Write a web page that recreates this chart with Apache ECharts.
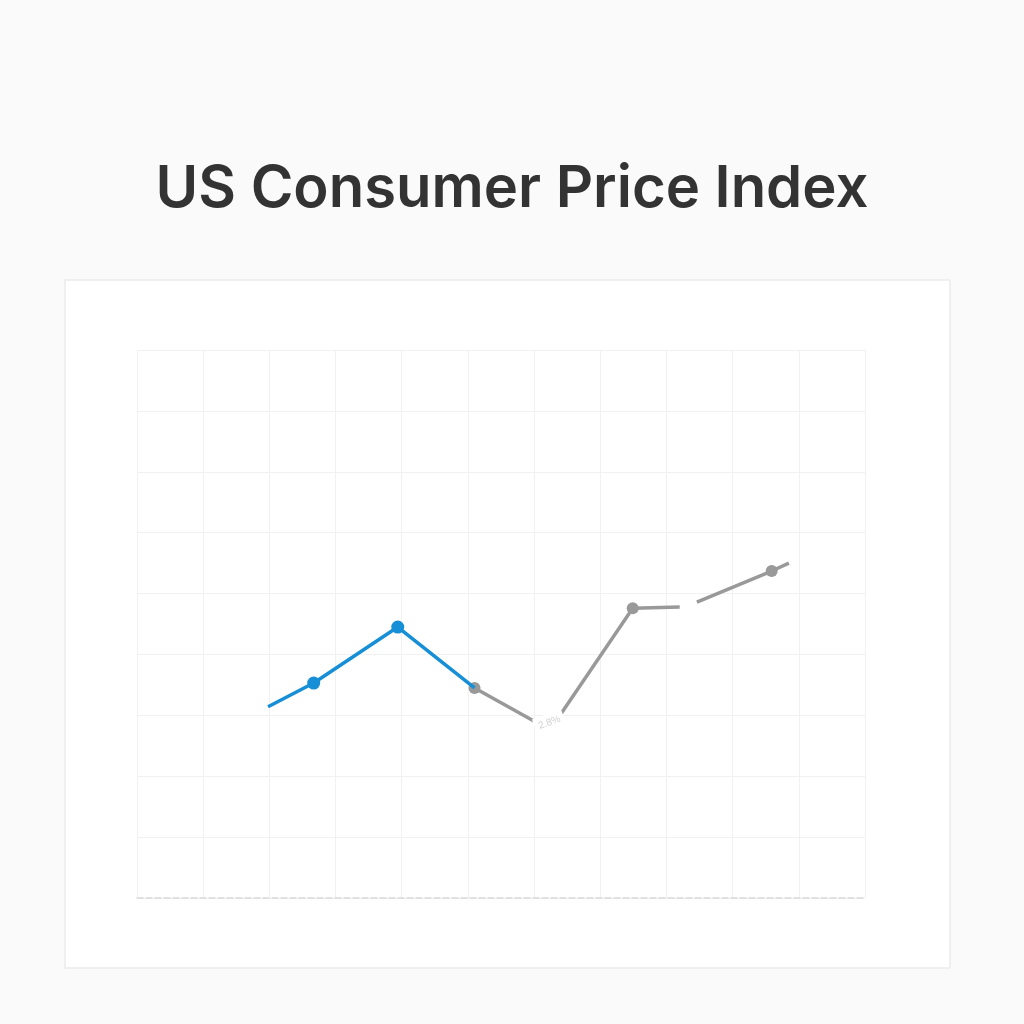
<!DOCTYPE html>
<html>
<head>
<meta charset="utf-8">
<script src="https://cdn.jsdelivr.net/npm/echarts@6/dist/echarts.min.js"></script>
<style>
  html, body { margin: 0; padding: 0; background: #fafafa; }
  #chart { width: 1024px; height: 1024px; }
</style>
</head>
<body>
<div id="chart"></div>
<script>
// 数据
const blueX = [1.98, 2.67, 3.94, 5.1];
const blueY = [3.14, 3.53, 4.45, 3.45];
const grayX = [5.1, 6.24, 7.49, 8.2, 8.33, 8.46, 9.59, 9.85];
const grayY = [3.45, 2.76, 4.76, 4.78, null, 4.86, 5.37, 5.5];
const minLabel = "2.8%";

// 哪些点画圆点
const blueMarks = [1, 2];
const grayMarks = [0, 2, 6];

const chart = echarts.init(document.getElementById("chart"));

const toData = (xs, ys, marks, labelIdx) =>
  xs.map((x, i) => {
    const item = { value: [x, ys[i] == null ? "-" : ys[i]] };
    if (!marks.includes(i)) item.symbol = "none";
    if (i === labelIdx) {
      item.symbol = "circle";
      item.symbolSize = 0.1;
      item.label = {
        show: true,
        formatter: minLabel,
        position: "top",
        distance: 0,
        offset: [2, 2],
        color: "#d0d0d0",
        fontSize: 10,
        backgroundColor: "#fff",
        padding: [4, 4],
        rotate: 20,
      };
    }
    return item;
  });

const option = {
  backgroundColor: "#fafafa",
  title: {
    text: "US Consumer Price Index",
    left: "center",
    top: 156,
    textStyle: {
      fontFamily: "Inter",
      fontSize: 58,
      fontWeight: 600,
      color: "#333",
    },
  },
  graphic: [
    {
      type: "rect",
      z: -10,
      shape: { x: 65, y: 280, width: 885, height: 688 },
      style: { fill: "#fff", stroke: "#ebebeb", lineWidth: 1.5 },
    },
  ],
  grid: { left: 137, right: 159, top: 350, bottom: 126 },
  xAxis: {
    type: "value",
    min: 0,
    max: 11,
    interval: 1,
    axisLine: { show: true, lineStyle: { color: "#d9d9d9", type: "dashed", width: 1.5 } },
    axisTick: { show: false },
    axisLabel: { show: false },
    splitLine: { show: true, lineStyle: { color: "#f1f1f1" } },
  },
  yAxis: {
    type: "value",
    min: 0,
    max: 9,
    interval: 1,
    axisLine: { show: false },
    axisTick: { show: false },
    axisLabel: { show: false },
    splitLine: { show: true, lineStyle: { color: "#f1f1f1" } },
  },
  series: [
    {
      type: "line",
      data: toData(grayX, grayY, grayMarks, 1),
      symbol: "circle",
      symbolSize: 12,
      connectNulls: false,
      itemStyle: { color: "#999" },
      lineStyle: { color: "#999", width: 3.5 },
      z: 2,
    },
    {
      type: "line",
      data: toData(blueX, blueY, blueMarks, -1),
      symbol: "circle",
      symbolSize: 13,
      itemStyle: { color: "#168fd6" },
      lineStyle: { color: "#168fd6", width: 3.5 },
      z: 3,
    },
  ],
};

chart.setOption(option);
</script>
</body>
</html>
